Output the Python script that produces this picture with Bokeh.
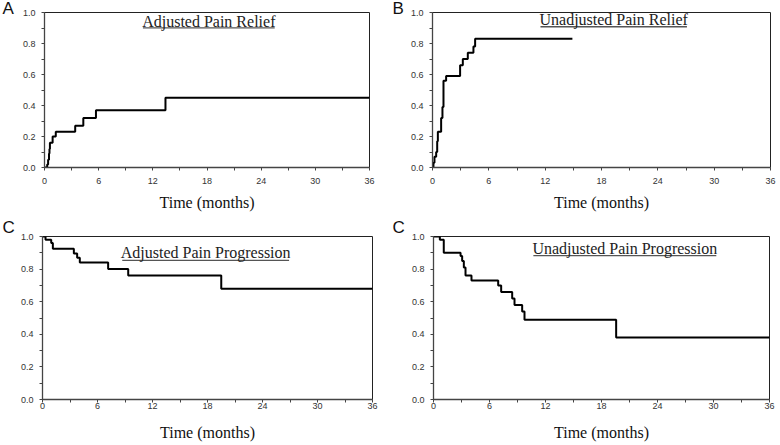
from bokeh.plotting import figure
from bokeh.models import Range1d, FixedTicker, Label, PrintfTickFormatter, LinearAxis
from bokeh.layouts import column, row
from bokeh.embed import file_html
from bokeh.resources import INLINE

# ---- data ----
adj_relief_t = [0, 0.3, 0.4, 0.5, 0.55, 0.6, 0.9, 1.25, 3.4, 4.3, 5.7, 13.4, 36]
adj_relief_s = [0, 0.02, 0.05, 0.09, 0.12, 0.16, 0.20, 0.23, 0.27, 0.32, 0.37, 0.45, 0.45]

unadj_relief_t = [0, 0.1, 0.21, 0.39, 0.5, 0.57, 0.92, 1.06, 1.17, 1.45, 2.94, 3.23, 3.76, 4.36, 4.54, 14.9]
unadj_relief_s = [0, 0.03, 0.07, 0.10, 0.17, 0.23, 0.32, 0.39, 0.56, 0.59, 0.66, 0.70, 0.74, 0.78, 0.83, 0.83]

adj_prog_t = [0, 0.33, 0.95, 1.13, 3.42, 3.78, 4.07, 7.16, 9.35, 19.5, 36]
adj_prog_s = [1, 0.98, 0.96, 0.925, 0.895, 0.87, 0.84, 0.80, 0.76, 0.68, 0.68]

unadj_prog_t = [0, 0.68, 1.1, 2.9, 3.07, 3.25, 3.43, 4.07, 6.93, 7.25, 8.43, 8.68, 9.5, 9.75, 19.57, 36]
unadj_prog_s = [1, 0.98, 0.90, 0.88, 0.85, 0.81, 0.76, 0.73, 0.70, 0.66, 0.62, 0.58, 0.54, 0.49, 0.38, 0.38]

titles = ["Adjusted Pain Relief", "Unadjusted Pain Relief",
          "Adjusted Pain Progression", "Unadjusted Pain Progression"]
letters = ["A", "B", "C", "C"]
x_ticks = [0, 6, 12, 18, 24, 30, 36]
x_minor = [3, 9, 15, 21, 27, 33]
y_ticks = [0.0, 0.2, 0.4, 0.6, 0.8, 1.0]
y_minor = [0.1, 0.3, 0.5, 0.7, 0.9]
x_label = "Time (months)"

SANS = "Liberation Sans"
SERIF = "Liberation Serif"


def letter_axis(p, letter):
    p.extra_y_ranges = {"letter": Range1d(0, 1)}
    lax = LinearAxis(y_range_name="letter",
                     ticker=FixedTicker(ticks=[1]),
                     major_label_overrides={1: letter})
    lax.axis_line_color = None
    lax.major_tick_line_color = None
    lax.minor_tick_line_color = None
    lax.major_tick_in = 0
    lax.major_tick_out = 0
    lax.major_label_standoff = 7
    lax.major_label_text_font = SANS
    lax.major_label_text_font_size = "17px"
    lax.major_label_text_color = "#111111"
    p.add_layout(lax, "left")


def panel(t, s, title, letter, bl, fw, br, bt, fh, bb, xstand, lstand,
          tx, ty, uy, uhalf, letter_standoff):
    p = figure(width=bl + fw + br, height=bt + fh + bb,
               output_backend="svg", toolbar_location=None,
               x_range=Range1d(0, 36), y_range=Range1d(0, 1),
               min_border_left=bl, min_border_right=br,
               min_border_top=bt, min_border_bottom=bb)
    p.grid.visible = False
    p.background_fill_color = "white"
    p.border_fill_color = "white"
    p.outline_line_color = "#222222"
    p.outline_line_width = 1

    p.xaxis.ticker = FixedTicker(ticks=x_ticks, minor_ticks=x_minor)
    p.yaxis.ticker = FixedTicker(ticks=y_ticks, minor_ticks=y_minor)
    p.yaxis.formatter = PrintfTickFormatter(format="%.1f")
    for ax in (p.xaxis[0], p.yaxis[0]):
        ax.axis_line_color = "#444444"
        ax.axis_line_width = 1.3
        ax.major_tick_line_color = "#444444"
        ax.minor_tick_line_color = "#444444"
        ax.major_tick_in = 0
        ax.major_tick_out = 3
        ax.minor_tick_in = 0
        ax.minor_tick_out = 3
        ax.major_label_text_font = SANS
        ax.major_label_text_font_size = "9px"
        ax.major_label_text_color = "#333333"
    p.yaxis.major_label_standoff = 6
    p.xaxis.major_label_standoff = xstand
    p.xaxis.axis_label = x_label
    p.xaxis.axis_label_text_font = SERIF
    p.xaxis.axis_label_text_font_size = "16px"
    p.xaxis.axis_label_text_font_style = "normal"
    p.xaxis.axis_label_text_color = "#111111"
    p.xaxis.axis_label_standoff = lstand

    p.step(t, s, mode="after", line_color="black", line_width=2)

    p.add_layout(Label(x=tx, y=ty, text=title, text_align="center",
                       text_baseline="middle", text_font=SERIF,
                       text_font_size="16px", text_color="#222222"))
    p.segment(x0=[tx - uhalf], y0=[uy], x1=[tx + uhalf], y1=[uy],
              line_color="#555555", line_width=1.3)

    try:
        p.title.standoff = letter_standoff
    except Exception:
        letter_axis(p, letter)
        return p
    p.title.text = letter
    p.title.align = "left"
    p.title.offset = -bl + 2
    p.title.text_font = SANS
    p.title.text_font_size = "17px"
    p.title.text_font_style = "normal"
    p.title.text_color = "#111111"
    return p


pA = panel(adj_relief_t, adj_relief_s, titles[0], letters[0],
           44, 325, 21, 12, 156, 47, 7, 7, 18.2, 0.942, 0.901, 7.3, -10)
pB = panel(unadj_relief_t, unadj_relief_s, titles[1], letters[1],
           42, 338, 10, 11, 156, 48, 7, 7, 19.3, 0.952, 0.908, 7.8, -11)
pC = panel(adj_prog_t, adj_prog_s, titles[2], letters[2],
           42, 330, 18, 20, 164, 46, 0, 12, 17.8, 0.902, 0.854, 9.1, 0)
pD = panel(unadj_prog_t, unadj_prog_s, titles[3], letters[3],
           43, 336, 11, 20, 165, 45, 0, 12, 20.5, 0.924, 0.883, 9.8, 0)

layout = column(row(pA, pB), row(pC, pD))
open("out.html", "w").write(file_html(layout, INLINE))
